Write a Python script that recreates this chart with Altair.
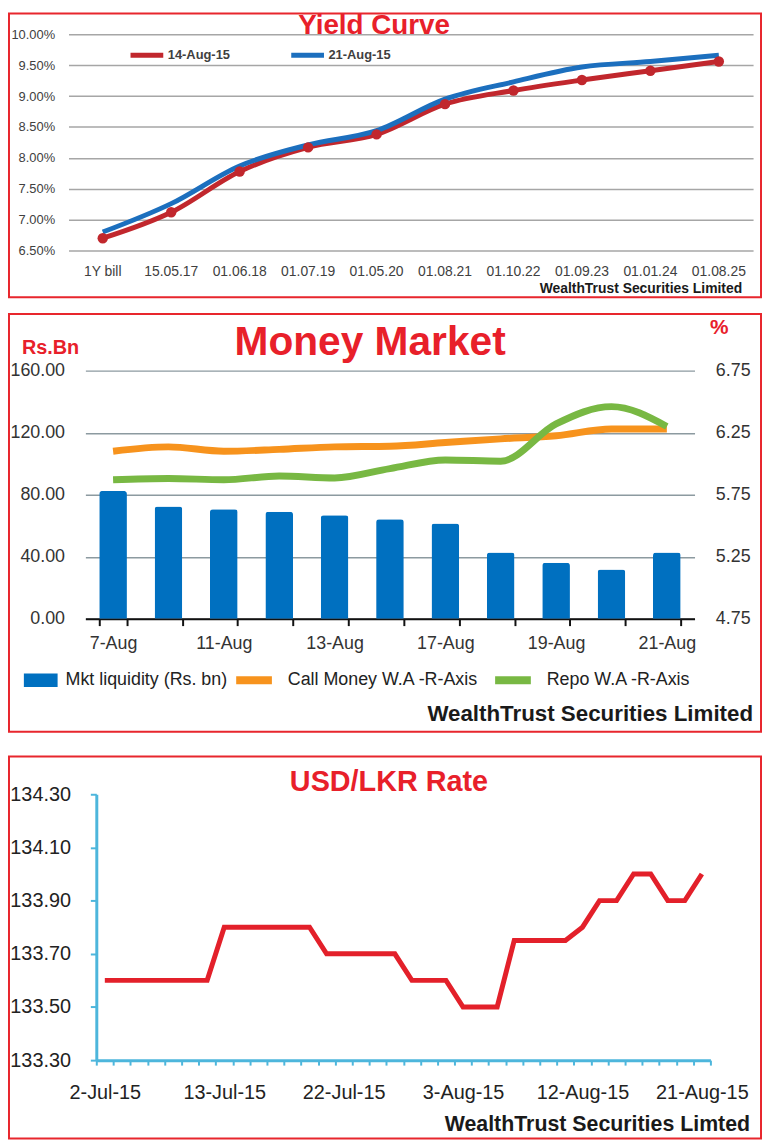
import json
import altair as alt
import pandas as pd

# ---------------- data ----------------
bonds = ['1Y bill', '15.05.17', '01.06.18', '01.07.19', '01.05.20',
         '01.08.21', '01.10.22', '01.09.23', '01.01.24', '01.08.25']
yield_14aug = [6.70, 7.12, 7.78, 8.17, 8.38, 8.87, 9.09, 9.26, 9.41, 9.56]
yield_21aug = [6.80, 7.26, 7.87, 8.21, 8.44, 8.95, 9.23, 9.47, 9.56, 9.66]
curve_names = ['14-Aug-15', '21-Aug-15']
yield_ticks = [6.5, 7.0, 7.5, 8.0, 8.5, 9.0, 9.5, 10.0]

mm_dates = ['7-Aug', '10-Aug', '11-Aug', '12-Aug', '13-Aug', '14-Aug',
            '17-Aug', '18-Aug', '19-Aug', '20-Aug', '21-Aug']
mm_labels = ['7-Aug', '11-Aug', '13-Aug', '17-Aug', '19-Aug', '21-Aug']
liquidity = [82.4, 72.3, 70.6, 68.9, 66.7, 64.2, 61.4, 42.6, 36.1, 31.7, 42.6]
call_money = [6.10, 6.135, 6.10, 6.115, 6.135, 6.14, 6.17, 6.20, 6.225, 6.28, 6.28]
repo = [5.87, 5.88, 5.87, 5.90, 5.885, 5.96, 6.03, 6.02, 6.32, 6.46, 6.30]
bar_name = 'Mkt liquidity (Rs. bn)'
line_names = ['Call Money W.A -R-Axis', 'Repo W.A -R-Axis']
left_ticks = [0, 40, 80, 120, 160]
right_ticks = [4.75, 5.25, 5.75, 6.25, 6.75]

fx_dates = ['2-Jul-15', '3-Jul-15', '6-Jul-15', '7-Jul-15', '8-Jul-15', '9-Jul-15',
            '10-Jul-15', '13-Jul-15', '14-Jul-15', '15-Jul-15', '16-Jul-15', '17-Jul-15',
            '20-Jul-15', '21-Jul-15', '22-Jul-15', '23-Jul-15', '24-Jul-15', '27-Jul-15',
            '28-Jul-15', '29-Jul-15', '30-Jul-15', '3-Aug-15', '4-Aug-15', '5-Aug-15',
            '6-Aug-15', '7-Aug-15', '10-Aug-15', '11-Aug-15', '12-Aug-15', '13-Aug-15',
            '14-Aug-15', '17-Aug-15', '18-Aug-15', '19-Aug-15', '20-Aug-15', '21-Aug-15']
fx_rate = [133.60, 133.60, 133.60, 133.60, 133.60, 133.60, 133.60,
           133.80, 133.80, 133.80, 133.80, 133.80, 133.80,
           133.70, 133.70, 133.70, 133.70, 133.70,
           133.60, 133.60, 133.60,
           133.50, 133.50, 133.50,
           133.75, 133.75, 133.75, 133.75,
           133.80,
           133.90, 133.90,
           134.00, 134.00,
           133.90, 133.90,
           134.00]
fx_labels = ['2-Jul-15', '13-Jul-15', '22-Jul-15', '3-Aug-15', '12-Aug-15', '21-Aug-15']
fx_ticks = [133.3, 133.5, 133.7, 133.9, 134.1, 134.3]

# ---------------- style ----------------
FONT = 'Liberation Sans'
RED = '#e8202a'
BORDER = '#e8262d'


def blank():
    return alt.Chart(pd.DataFrame({'k': [0]}))


def frame(y0, y1):
    return blank().mark_rect(opacity=0).encode(
        x=alt.value(-61), x2=alt.value(699), y=alt.value(y0), y2=alt.value(y1))


def border(y0, y1):
    return blank().mark_rect(fill='transparent', stroke=BORDER, strokeWidth=2).encode(
        x=alt.value(-60), x2=alt.value(698), y=alt.value(y0), y2=alt.value(y1))


def label(text, x, y, size, color, align='center', baseline='middle', weight='bold'):
    return blank().mark_text(text=text, fontSize=size, fontWeight=weight, color=color,
                             align=align, baseline=baseline, font=FONT).encode(
        x=alt.value(x), y=alt.value(y))


# ---------------- panel 1: yield curve ----------------
yc = pd.DataFrame({
    'bond': bonds + bonds,
    'yld': yield_14aug + yield_21aug,
    'curve': [curve_names[0]] * len(bonds) + [curve_names[1]] * len(bonds),
})

x1 = alt.X('bond:N', sort=bonds,
           scale=alt.Scale(type='band', paddingInner=0, paddingOuter=0),
           axis=alt.Axis(title=None, labelAngle=0, domain=False, ticks=False, grid=False,
                         labelPadding=14, labelFontSize=14, labelColor='#404040'))
y1 = alt.Y('yld:Q', scale=alt.Scale(domain=[6.5, 10.0], zero=False, nice=False),
           axis=alt.Axis(title=None, values=yield_ticks,
                         labelExpr="format(datum.value, '.2f') + '%'",
                         domain=False, ticks=False, grid=True, gridColor='#a6a6a6',
                         gridWidth=1.5, labelPadding=14, labelFontSize=13,
                         labelColor='#404040'))

yc_lines = alt.Chart(yc).mark_line(strokeWidth=5, interpolate='monotone').encode(
    x=x1, y=y1,
    color=alt.Color('curve:N', scale=alt.Scale(domain=curve_names, range=['#c1272d', '#1c6fbe']),
                    legend=alt.Legend(orient='none', legendX=60, legendY=2, direction='horizontal',
                                      title=None, symbolType='stroke', symbolSize=1089,
                                      symbolStrokeWidth=5, labelFontSize=13, labelFontWeight='bold',
                                      labelColor='#404040', labelOffset=2, columnPadding=51,
                                      labelLimit=300, padding=0)))
yc_points = alt.Chart(yc).transform_filter(
    alt.datum.curve == curve_names[0]
).mark_circle(size=110, opacity=1, color='#c1272d').encode(x=x1, y=y1)

panel1 = alt.layer(
    frame(-22, 272), border(-21, 265),
    label('Yield Curve', 308, -22, 28, RED, baseline='top'),
    label('WealthTrust Securities Limited', 679, 257, 14, '#1a1a1a', align='right'),
    yc_lines, yc_points,
).properties(width=690, height=218)

# ---------------- panel 2: money market ----------------
mm_bar = pd.DataFrame({'date': mm_dates, 'liq': liquidity,
                       'bar_series': [bar_name] * len(mm_dates)})
mm_line = pd.DataFrame({
    'date': mm_dates + mm_dates,
    'rate': call_money + repo,
    'line_series': [line_names[0]] * len(mm_dates) + [line_names[1]] * len(mm_dates),
})

x2 = alt.X('date:N', sort=mm_dates,
           scale=alt.Scale(type='band', paddingInner=0.5, paddingOuter=0.25, range=[17, 631]),
           axis=alt.Axis(title=None, labelAngle=0,
                         labelExpr="indexof(%s, datum.value) >= 0 ? datum.value : ''" % json.dumps(mm_labels),
                         domainColor='#111111', domainWidth=2, tickColor='#111111', tickWidth=2,
                         tickSize=7, tickBand='extent', grid=False, labelPadding=9,
                         labelFontSize=18, labelColor='#333333'))

bars = alt.Chart(mm_bar).mark_bar(cornerRadiusTopLeft=3, cornerRadiusTopRight=3).encode(
    x=x2,
    y=alt.Y('liq:Q', scale=alt.Scale(domain=[0, 160], nice=False),
            axis=alt.Axis(title=None, values=left_ticks, format='.2f', offset=-17, domain=False,
                          ticks=False, grid=True, gridColor='#8c9aa0', gridWidth=1.5,
                          labelPadding=21, labelFontSize=18, labelColor='#333333')),
    color=alt.Color('bar_series:N', scale=alt.Scale(domain=[bar_name], range=['#0070c0']),
                    legend=alt.Legend(orient='none', legendX=-45, legendY=295, title=None,
                                      symbolType='M-1,-0.4H1V0.4H-1Z', symbolSize=1156,
                                      symbolStrokeWidth=0, labelFontSize=18, labelColor='#222222',
                                      labelOffset=8, labelLimit=300, padding=0)))

mm_lines = alt.Chart(mm_line).mark_line(strokeWidth=7, interpolate='monotone').encode(
    x=x2,
    y=alt.Y('rate:Q', scale=alt.Scale(domain=[4.75, 6.75], zero=False, nice=False),
            axis=alt.Axis(orient='right', title=None, values=right_ticks, format='.2f',
                          domain=False, ticks=False, grid=False, labelPadding=21,
                          labelFontSize=18, labelColor='#333333')),
    color=alt.Color('line_series:N', scale=alt.Scale(domain=line_names, range=['#f7931d', '#78b843']),
                    legend=alt.Legend(orient='none', legendX=165, legendY=290, direction='horizontal',
                                      title=None, symbolType='stroke', symbolSize=1296,
                                      symbolStrokeWidth=8, labelFontSize=18, labelColor='#222222',
                                      labelOffset=12, columnPadding=0, labelLimit=300, padding=0)))

panel2 = alt.layer(
    frame(-67, 375), border(-57, 364),
    label('Money Market', 304, -28, 41, RED),
    label('Rs.Bn', -47, -23, 20, RED, align='left'),
    label('%', 656, -43, 21, RED),
    label('WealthTrust Securities Limited', 690, 346, 22.5, '#1a1a1a', align='right'),
    bars, mm_lines,
).resolve_scale(y='independent', color='independent').resolve_legend(color='independent').properties(
    width=631, height=250)

# ---------------- panel 3: USD/LKR ----------------
fx = pd.DataFrame({'day': fx_dates, 'rate': fx_rate})
AX3 = '#4db6dc'
fx_line = alt.Chart(fx).mark_line(color='#e3202a', strokeWidth=5).encode(
    x=alt.X('day:N', sort=fx_dates,
            scale=alt.Scale(type='band', paddingInner=0, paddingOuter=0, range=[28, 647]),
            axis=alt.Axis(title=None, labelAngle=0,
                          labelExpr="indexof(%s, datum.value) >= 0 ? datum.value : ''" % json.dumps(fx_labels),
                          domainColor=AX3, domainWidth=3, tickColor=AX3, tickWidth=2, tickSize=5,
                          tickBand='extent', grid=False, labelPadding=18, labelFontSize=20,
                          labelColor='#222222')),
    y=alt.Y('rate:Q', scale=alt.Scale(domain=[133.3, 134.3], zero=False, nice=False),
            axis=alt.Axis(title=None, values=fx_ticks, format='.2f', offset=-28,
                          domainColor=AX3, domainWidth=3, tickColor=AX3, tickWidth=2, tickSize=6,
                          grid=False, labelPadding=20, labelFontSize=20, labelColor='#222222')),
)

panel3 = alt.layer(
    frame(-52, 343), border(-38, 347),
    label('USD/LKR Rate', 323, -12, 29, RED),
    label('WealthTrust Securities Limted', 687, 333, 21.5, '#1a1a1a', align='right'),
    fx_line,
).properties(width=647, height=268)

chart = alt.vconcat(panel1, panel2, panel3, spacing=0).resolve_scale(
    x='independent', y='independent', color='independent'
).resolve_legend(color='independent').properties(padding=0).configure(
    font=FONT
).configure_view(strokeWidth=0)

chart.save('out.html', embed_options={'renderer': 'svg', 'actions': False})
